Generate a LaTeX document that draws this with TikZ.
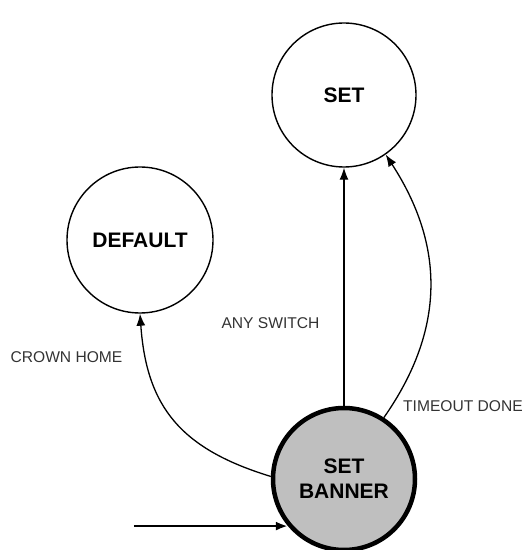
\documentclass[tikz,border=0pt]{standalone}
\usepackage{fontspec}
\setmainfont{Liberation Sans}
\usetikzlibrary{positioning,arrows.meta,calc}

\begin{document}
\begin{tikzpicture}[
    x=1pt, y=1pt,
    >={Latex[length=12pt,width=9pt]},
    state/.style = {circle,draw,line width=1.4pt,minimum size=144pt,inner sep=0pt,
                    font=\fontsize{21}{25}\selectfont\bfseries,align=center},
    initial/.style = {state,fill=black!25,line width=4.5pt,minimum size=142pt},
    transition/.style = {->,line width=1.3pt},
    entry/.style = {->,line width=2.6pt},
    lbl/.style = {font=\fontsize{15.6}{18}\selectfont,text=black!80,inner sep=0pt}
    ]
    \useasboundingbox (0,0) rectangle (524,550);

    \node[initial] (banner) at (344,71) {SET\\BANNER};
    \node[state] (set) at (344,455) {SET};
    \node[state, minimum size=146pt] (default) at (140,310) {DEFAULT};
    \coordinate[left=154pt of banner.220] (start);

    \node[lbl] (anyswitch) at (270.5,227) {ANY SWITCH};
    \node[lbl] (crownhome) at (66.5,193) {CROWN HOME};
    \node[lbl] (timeout) at (463,144) {TIMEOUT DONE};

    \draw[entry] (start) -- (banner.220);
    \draw[transition] (banner) -- (set);
    \draw[transition] (banner.57) to[out=55, in=-57, looseness=1.05] (set.305);
    \draw[transition] (banner.178) to[out=163, in=-86, looseness=1.15] (default.south);
  \end{tikzpicture}
\end{document}
